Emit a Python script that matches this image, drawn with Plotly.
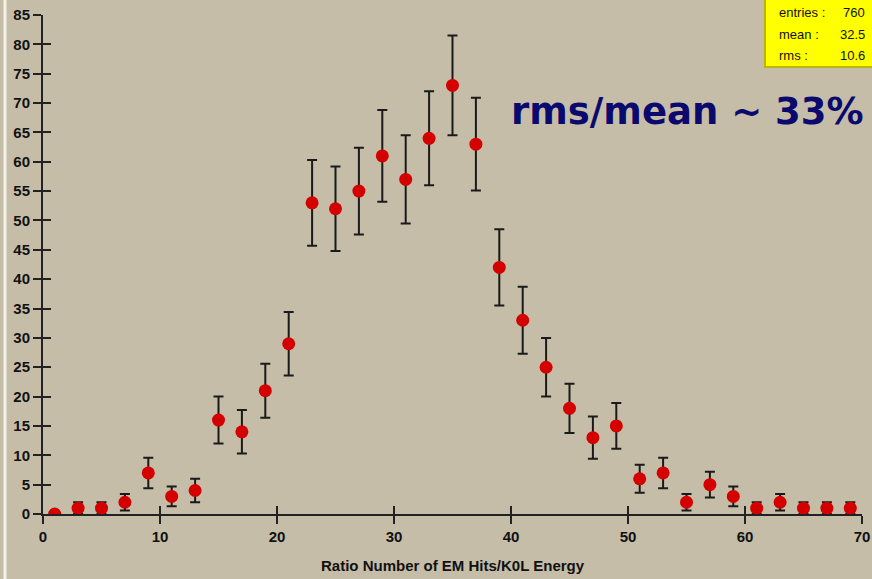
import plotly.graph_objects as go

x_centers = [1, 3, 5, 7, 9, 11, 13, 15, 17, 19, 21, 23, 25, 27, 29, 31, 33, 35,
             37, 39, 41, 43, 45, 47, 49, 51, 53, 55, 57, 59, 61, 63, 65, 67, 69]
counts = [0, 1, 1, 2, 7, 3, 4, 16, 14, 21, 29, 53, 52, 55, 61, 57, 64, 73,
          63, 42, 33, 25, 18, 13, 15, 6, 7, 2, 5, 3, 1, 2, 1, 1, 1]
errors = [0, 1, 1, 1.4, 2.6, 1.7, 2, 4, 3.7, 4.6, 5.4, 7.3, 7.2, 7.4, 7.8, 7.5, 8, 8.5,
          7.9, 6.5, 5.7, 5, 4.2, 3.6, 3.9, 2.4, 2.6, 1.4, 2.2, 1.7, 1, 1.4, 1, 1, 1]
y_ticks = list(range(0, 90, 5))
x_ticks = list(range(0, 80, 10))
stat_labels = ["entries :", "mean :", "rms :"]
stat_values = ["760", "32.5", "10.6"]
x_title = "Ratio Number of EM Hits/K0L Energy"

BG = "#C5BDA7"
W, H = 872, 579
L, R, T, B = 43, 10, 15, 65
pw, ph = W - L - R, H - T - B

def px(xp):
    return (xp - L) / pw

def py(yp):
    return (H - B - yp) / ph

fig = go.Figure()
fig.add_trace(go.Scatter(
    x=x_centers, y=counts, mode="markers", cliponaxis=True,
    marker=dict(color="#D40000", size=13, symbol="circle", line=dict(width=0)),
    error_y=dict(type="data", array=errors, visible=True, color="#1a1a1a",
                 thickness=2, width=5),
    showlegend=False,
))

axis_font = dict(family="Liberation Sans, Arial, sans-serif", size=15, color="#111111")
fig.update_layout(
    width=W, height=H,
    margin=dict(l=L, r=R, t=T, b=B, pad=0),
    paper_bgcolor=BG, plot_bgcolor=BG,
    xaxis=dict(range=[0, 70], tickvals=x_ticks, ticktext=[f"<b>{v}</b>" for v in x_ticks],
               showgrid=False, zeroline=False, showline=True, linecolor="#222222",
               linewidth=2, ticks="outside", ticklen=8, tickwidth=2, tickcolor="#222222",
               tickfont=axis_font, automargin=False),
    yaxis=dict(range=[0, 85], tickvals=y_ticks, ticktext=[f"<b>{v}</b>" for v in y_ticks],
               showgrid=False, zeroline=False, showline=True, linecolor="#222222",
               linewidth=2, ticks="outside", ticklen=8, tickwidth=2, tickcolor="#222222",
               tickfont=axis_font, automargin=False),
    xaxis2=dict(range=[0, 70], overlaying="x", tickvals=x_ticks, showticklabels=False,
                showgrid=False, zeroline=False, ticks="inside", ticklen=8, tickwidth=2,
                tickcolor="#222222", anchor="y", automargin=False),
    yaxis2=dict(range=[0, 85], overlaying="y", tickvals=y_ticks, showticklabels=False,
                showgrid=False, zeroline=False, ticks="inside", ticklen=8, tickwidth=2,
                tickcolor="#222222", anchor="x", automargin=False),
)
# invisible trace to activate overlay axes
fig.add_trace(go.Scatter(x=[None], y=[None], xaxis="x2", yaxis="y2", showlegend=False))

# x-axis title
fig.add_annotation(xref="paper", yref="paper", x=px(453), y=py(565),
                   text=f"<b>{x_title}</b>", showarrow=False,
                   xanchor="center", yanchor="middle",
                   font=dict(family="Liberation Sans, Arial, sans-serif", size=15,
                             color="#111111"))

# white left edge line
fig.add_shape(type="line", xref="paper", yref="paper", x0=px(5), x1=px(5),
              y0=py(H), y1=py(0), line=dict(color="#F4F1EA", width=3))
# stats box
fig.add_shape(type="rect", xref="paper", yref="paper", x0=px(765), x1=px(874),
              y0=py(67), y1=py(-2), fillcolor="#FFFF00",
              line=dict(color="#BDB600", width=2))
for i, (lab, val) in enumerate(zip(stat_labels, stat_values)):
    yc = 12 + 22 * i
    fig.add_annotation(xref="paper", yref="paper", x=px(777), y=py(yc), text=lab,
                       showarrow=False, xanchor="left", yanchor="middle",
                       font=dict(family="Liberation Sans, Arial, sans-serif", size=13,
                                 color="#111111"))
    fig.add_annotation(xref="paper", yref="paper", x=px(867), y=py(yc), text=val,
                       showarrow=False, xanchor="right", yanchor="middle",
                       font=dict(family="Liberation Sans, Arial, sans-serif", size=13,
                                 color="#111111"))

fig.add_annotation(xref="paper", yref="paper", x=px(866), y=py(112),
                   text="<b>rms/mean ~ 33%</b>", showarrow=False,
                   xanchor="right", yanchor="middle",
                   font=dict(family="DejaVu Sans, sans-serif", size=37, color="#0A0A6E"))

fig.write_html("out.html", config={"displayModeBar": False},
               post_script="document.body.style.margin='0';document.body.style.overflow='hidden';")
